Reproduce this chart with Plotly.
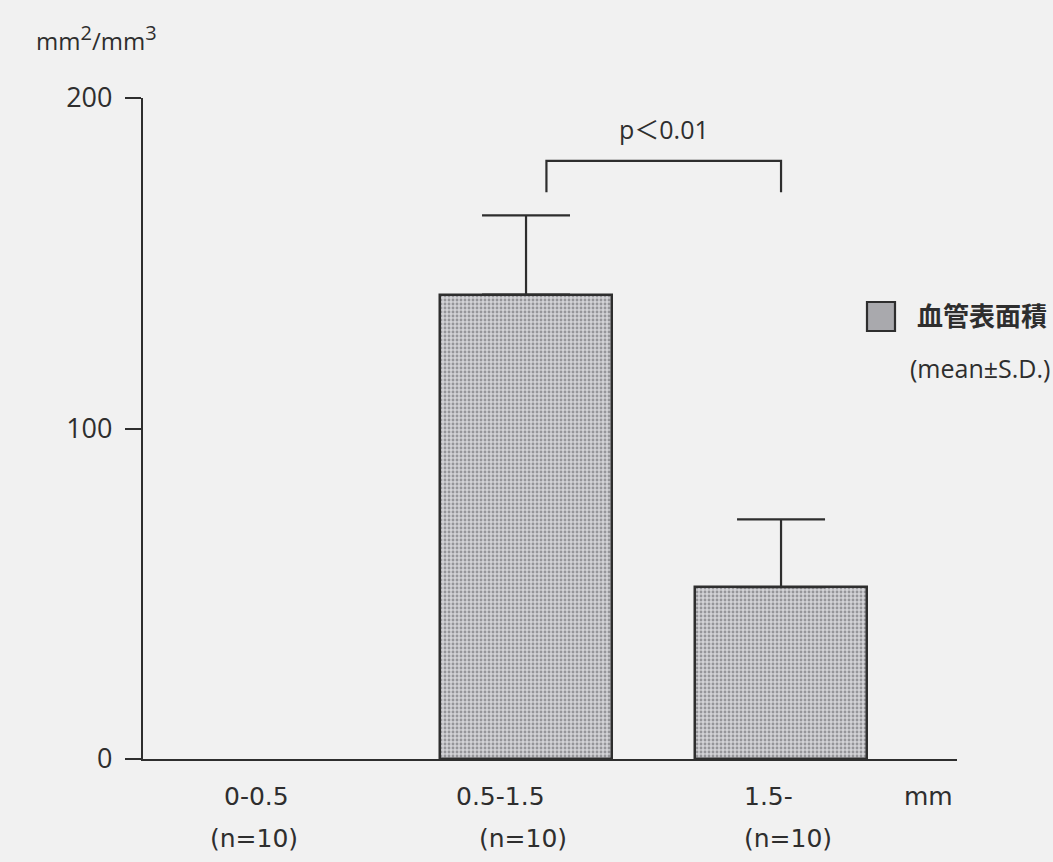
import plotly.graph_objects as go

categories = ["0-0.5", "0.5-1.5", "1.5-"]
n_labels = ["(n=10)", "(n=10)", "(n=10)"]
means = [0, 140.5, 52]
sd_upper = [0, 24, 20.5]
series_name = "血管表面積"
y_ticks = [0, 100, 200]
p_text = "p＜0.01"
bracket_from, bracket_to = 1.08, 2.0
bracket_top, bracket_bottom = 181, 171.5

FONT = "Open Sans, Noto Sans CJK JP, sans-serif"
WIDE = "DejaVu Sans, Open Sans, sans-serif"
INK = "#2e2e2e"
BG = "#f1f1f1"

x = list(range(len(categories)))
# a zero-height bar has nothing to draw (no outline, no error cap)
y_drawn = [v if v > 0 else None for v in means]

fig = go.Figure()
fig.add_trace(go.Bar(
    x=x, y=y_drawn, name=series_name, width=0.675,
    marker=dict(color="#c8c8cc",
                line=dict(color=INK, width=2.5),
                pattern=dict(shape=".", size=4, solidity=0.4,
                             fgcolor="#58585c", bgcolor="#d2d2d6")),
    error_y=dict(type="data", symmetric=False, array=sd_upper,
                 arrayminus=[0] * len(means), color=INK, thickness=2.2, width=44),
    showlegend=False,
))

fig.update_layout(
    width=1053, height=862,
    margin=dict(l=143, r=96, t=98, b=103),
    paper_bgcolor=BG, plot_bgcolor=BG,
    font=dict(family=FONT, color=INK, size=24),
    xaxis=dict(range=[-0.502, 2.69], showticklabels=False, ticks="",
               showline=True, linecolor=INK, linewidth=2.2, showgrid=False,
               zeroline=False, fixedrange=True),
    yaxis=dict(range=[0, 200], tickvals=y_ticks, ticks="outside", ticklen=16,
               tickwidth=2, tickcolor=INK, showline=True, linecolor=INK,
               linewidth=2.2, showgrid=False, zeroline=False,
               ticklabelstandoff=7, tickfont=dict(size=27, family=FONT)),
    bargap=0,
)

# category labels under the axis
label_shift = [-15, -26, -13]
n_shift = [-17, -3, 7]
for i, (c, n) in enumerate(zip(categories, n_labels)):
    fig.add_annotation(x=i, y=0, xref="x", yref="y", text=c, showarrow=False,
                       yshift=-37, xshift=label_shift[i],
                       font=dict(size=25, family=WIDE))
    fig.add_annotation(x=i, y=0, xref="x", yref="y", text=n, showarrow=False,
                       yshift=-79, xshift=n_shift[i],
                       font=dict(size=25, family=WIDE))
fig.add_annotation(x=1, xref="paper", xanchor="right", y=0, yref="y", text="mm",
                   showarrow=False, yshift=-37, xshift=-2,
                   font=dict(size=25, family=WIDE))

# y unit
fig.add_annotation(x=0, xref="paper", y=1, yref="paper", xanchor="left",
                   yanchor="middle",
                   text=('mm<sup><span style="font-size:20px">2</span></sup>/'
                         'mm<sup><span style="font-size:20px">3</span></sup>'),
                   showarrow=False, xshift=-109, yshift=60,
                   font=dict(size=24, family=FONT))

# significance bracket
fig.add_shape(type="path", xref="x", yref="y",
              path=f"M {bracket_from},{bracket_bottom} L {bracket_from},{bracket_top} "
                   f"L {bracket_to},{bracket_top} L {bracket_to},{bracket_bottom}",
              line=dict(color=INK, width=2.2))
fig.add_annotation(x=(bracket_from + bracket_to) / 2, y=bracket_top, xref="x", yref="y",
                   text=p_text, showarrow=False, yanchor="bottom", yshift=13,
                   font=dict(size=25, family=FONT))

# legend key
fig.add_shape(type="rect", xref="paper", yref="paper",
              x0=(867 - 143) / 814, x1=(895 - 143) / 814,
              y0=(759 - 331) / 661, y1=(759 - 302) / 661,
              fillcolor="#a9a9ad", line=dict(color=INK, width=2.2))
fig.add_annotation(x=1, xref="paper", xanchor="left", xshift=-42,
                   y=(759 - 296) / 661, yref="paper", text=f"<b>{series_name}</b>",
                   showarrow=False, font=dict(size=26))
fig.add_annotation(x=1, xref="paper", xanchor="left", xshift=-49,
                   y=(759 - 368) / 661, yref="paper", text="(mean±S.D.)",
                   showarrow=False, font=dict(size=25))

fig.write_html("out.html")
